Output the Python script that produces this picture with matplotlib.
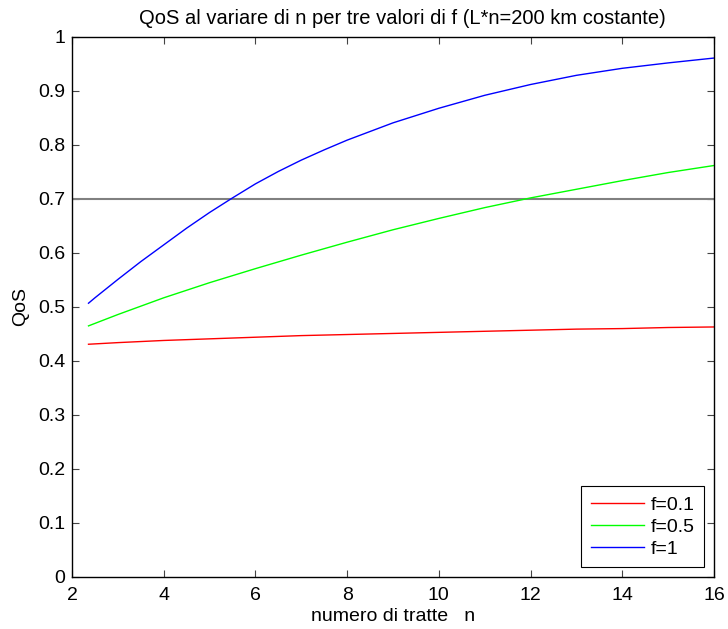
import numpy as np
import matplotlib.pyplot as plt

plt.rcParams['font.family'] = ['Liberation Sans', 'DejaVu Sans']

# numero di tratte n e QoS per f = 0.1, 0.5, 1
n_red = [2.36, 3, 4, 5, 6, 7, 8, 9, 10, 11, 12, 13, 14, 15, 16]
qos_f01 = [0.431, 0.434, 0.438, 0.441, 0.444, 0.447, 0.449, 0.451, 0.453,
           0.455, 0.457, 0.459, 0.460, 0.462, 0.463]

n_green = [2.36, 3, 4, 5, 6, 7, 8, 9, 10, 11, 12, 13, 14, 15, 16]
qos_f05 = [0.465, 0.486, 0.517, 0.545, 0.571, 0.596, 0.620, 0.643, 0.664,
           0.684, 0.702, 0.718, 0.734, 0.749, 0.762]

n_blue = [2.36, 2.5, 3, 3.5, 4, 4.5, 5, 5.5, 6, 6.5, 7, 7.5, 8, 9, 10,
          11, 12, 13, 14, 15, 16]
qos_f1 = [0.507, 0.517, 0.551, 0.584, 0.615, 0.646, 0.675, 0.702, 0.728,
          0.751, 0.772, 0.791, 0.809, 0.841, 0.868, 0.892, 0.912, 0.929,
          0.942, 0.952, 0.961]

soglia = 0.7

fig = plt.figure(figsize=(7.28, 6.29), dpi=100)
ax = fig.add_axes([0.0989, 0.0827, 0.8819, 0.8585])

ax.axhline(soglia, color=(0.5, 0.5, 0.5), lw=1.5)
ax.plot(n_red, qos_f01, color='r', lw=1.0, label='f=0.1')
ax.plot(n_green, qos_f05, color=(0, 1, 0), lw=1.0, label='f=0.5')
ax.plot(n_blue, qos_f1, color='b', lw=1.0, label='f=1')

ax.set_xlim(2, 16)
ax.set_ylim(0, 1)
ax.set_xticks(np.arange(2, 17, 2))
ax.set_yticks(np.arange(0, 1.01, 0.1))
ax.set_yticklabels(['0', '0.1', '0.2', '0.3', '0.4', '0.5', '0.6', '0.7', '0.8', '0.9', '1'])
ax.tick_params(direction='in', top=True, right=True, length=5, width=0.8,
               color='#444444', labelsize=14)
ax.tick_params(axis='x', pad=7)
ax.tick_params(axis='y', pad=5)
for s in ax.spines.values():
    s.set_linewidth(1.0)

ax.set_title('QoS al variare di n per tre valori di f (L*n=200 km costante)',
             fontsize=14.5, pad=9, x=0.515)
ax.set_xlabel('numero di tratte   n', fontsize=14, labelpad=3)
ax.set_ylabel('QoS', fontsize=14, labelpad=6)

leg = ax.legend(loc='lower right', fontsize=14, fancybox=False, framealpha=1,
                edgecolor='k', handlelength=2.7, borderaxespad=0.5,
                handletextpad=0.36, labelspacing=0.22, borderpad=0.5)
leg.get_frame().set_linewidth(0.8)

plt.savefig('out.png', dpi=100)
plt.close('all')
